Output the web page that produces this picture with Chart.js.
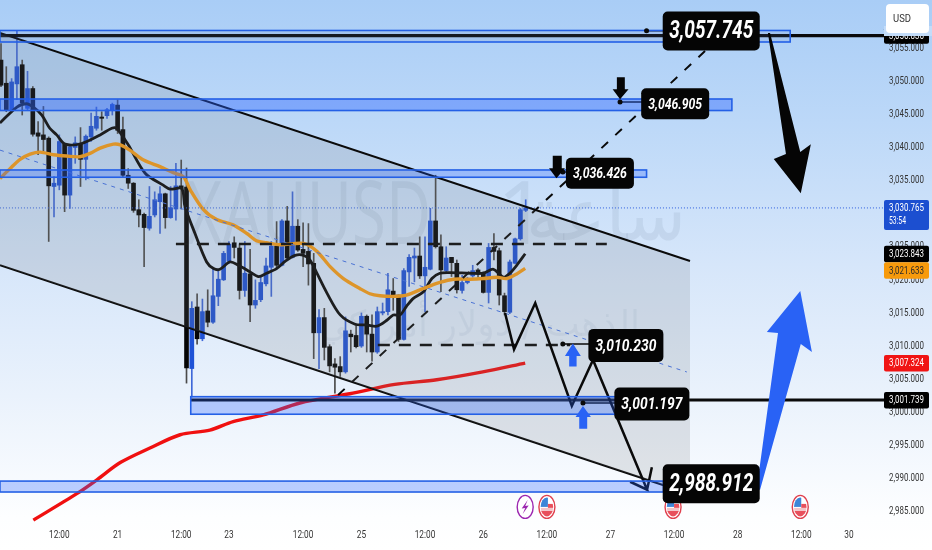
<!DOCTYPE html>
<html>
<head>
<meta charset="utf-8">
<title>XAUUSD</title>
<script src="https://cdn.jsdelivr.net/npm/chart.js@4/dist/chart.umd.min.js"></script>
<style>
html, body { margin: 0; height: 100%; overflow: hidden; }
body { background: linear-gradient(180deg, #a9cdf6 0%, #bcd8f8 22%, #d6e6fa 48%, #eaf2fc 72%, #fdfeff 94%, #ffffff 100%); }
canvas { display: block; }
</style>
</head>
<body>
<canvas id="chart" width="932" height="550"></canvas>
<script>
// hourly candles, one entry per bar
const opens = [3053.1,3049.6,3045.6,3049.5,3052.4,3045.8,3048.8,3042.1,3041.8,3041.3,3034.0,3034.2,3040.4,3032.7,3039.9,3040.4,3038.1,3041.5,3042.8,3044.5,
  3044.7,3045.5,3046.3,3042.6,3035.7,3034.5,3030.5,3029.8,3027.7,3029.7,3031.7,3032.9,3029.3,3030.6,3034.1,3033.9,3006.5,3015.8,3011.0,3015.2,
  3013.5,3017.4,3019.9,3022.7,3025.5,3024.7,3018.3,3020.8,3016.1,3016.9,3019.3,3021.8,3025.0,3022.1,3028.8,3023.3,3028.0,3024.5,3024.2,3022.4,
  3011.9,3014.2,3009.8,3007.2,3006.8,3006.0,3011.7,3011.5,3009.9,3014.4,3011.7,3009.0,3014.9,3015.1,3018.2,3017.6,3010.9,3021.1,3023.2,3023.5,
  3020.5,3021.5,3028.8,3024.9,3021.3,3023.3,3022.4,3018.3,3019.5,3020.5,3021.4,3020.9,3018.0,3024.8,3024.3,3017.5,3015.0,3022.4,3026.1,3030.4];
const highs = [3055.6,3052.1,3050.3,3057.6,3053.1,3051.4,3049.1,3043.8,3046.1,3041.5,3035.5,3041.8,3040.5,3040.3,3041.5,3042.9,3041.8,3045.1,3046.0,3045.3,
  3045.8,3046.6,3047.1,3044.5,3036.7,3034.6,3032.0,3030.0,3034.0,3033.2,3034.0,3033.0,3034.0,3037.5,3038.0,3036.8,3016.6,3017.8,3017.0,3018.4,
  3021.5,3021.4,3024.2,3025.7,3026.4,3025.2,3025.7,3024.5,3019.9,3020.3,3023.2,3025.7,3028.7,3029.0,3031.0,3033.2,3029.0,3028.5,3028.4,3023.9,
  3015.4,3015.6,3010.1,3008.0,3008.3,3014.3,3012.3,3013.1,3014.9,3014.6,3014.6,3015.8,3016.4,3020.9,3020.1,3017.6,3021.6,3023.7,3024.7,3026.4,
  3026.4,3030.7,3035.7,3026.7,3024.9,3023.3,3022.9,3020.6,3020.3,3022.1,3021.6,3021.1,3025.4,3026.9,3024.7,3017.9,3022.9,3026.2,3030.7,3032.0];
const lows = [3049.1,3045.3,3045.3,3047.1,3044.8,3045.6,3041.6,3038.8,3039.3,3025.7,3029.4,3033.5,3030.2,3030.7,3037.5,3034.0,3035.0,3040.8,3042.5,3042.5,
  3044.3,3044.8,3042.0,3035.5,3033.7,3030.1,3027.9,3021.9,3027.4,3029.4,3026.9,3027.7,3029.2,3028.9,3030.6,3004.3,3002.2,3010.2,3010.7,3012.8,
  3013.3,3016.0,3019.8,3022.4,3023.2,3017.0,3017.4,3013.6,3015.6,3016.6,3019.0,3017.4,3021.6,3022.0,3022.9,3023.2,3024.2,3021.9,3019.1,3008.0,
  3006.5,3007.8,3006.0,3002.8,3005.3,3005.8,3009.0,3009.6,3009.7,3009.0,3007.6,3008.8,3014.6,3014.6,3015.3,3010.6,3010.8,3018.9,3019.6,3020.1,
  3015.1,3021.4,3024.7,3018.1,3021.1,3020.4,3017.9,3017.9,3019.3,3020.3,3020.3,3017.9,3016.4,3022.9,3016.1,3014.6,3014.8,3022.3,3025.9,3030.2];
const closes = [3049.3,3045.6,3049.8,3052.1,3046.6,3048.8,3041.9,3041.6,3041.1,3034.1,3034.5,3040.8,3032.7,3040.0,3040.6,3038.1,3041.6,3043.1,3044.6,3044.3,
  3045.6,3046.4,3042.5,3035.7,3034.5,3030.4,3029.7,3027.8,3029.5,3032.0,3032.9,3029.3,3030.8,3034.1,3033.7,3006.6,3015.6,3011.0,3015.1,3013.5,
  3017.5,3020.0,3023.9,3025.3,3024.8,3018.3,3020.9,3016.1,3016.8,3019.5,3022.0,3025.0,3022.1,3028.8,3023.2,3028.0,3024.4,3023.9,3022.3,3011.9,
  3014.2,3009.7,3006.9,3006.7,3006.0,3012.2,3011.3,3009.8,3014.4,3011.7,3009.0,3015.1,3015.1,3018.4,3017.5,3010.9,3021.3,3023.3,3023.5,3020.5,
  3021.8,3028.8,3024.9,3021.4,3023.2,3022.5,3018.4,3019.5,3020.0,3021.3,3020.8,3018.0,3024.8,3024.2,3017.6,3015.1,3022.6,3026.1,3030.5,3030.765];

const blackMaBars = [-0.2,3,4.8,6.1,7.7,9.2,10.5,12.1,15.2,18.7,20.9,21.8,24,27.2,30.6,31.9,34.1,34.7,36.6,38.8,40.1,41.3,43.2,44.8,47,48.6,50.1,52,53.6,55.5,57.1,58.3,59.6,61.5,64,66.8,69,70.9,72.8,74,75.3,76.5,77.8,79.7,81.3,82.8,84.7,88.5,91,92.9,94.8,96,97.3,98.9];
const blackMaValues = [3043.6,3046,3046.5,3046,3044.8,3042.8,3041.8,3040.4,3040.5,3041.8,3042.8,3042.8,3040.3,3036,3034.2,3033.6,3033.7,3031,3026.9,3022.6,3021.6,3021.5,3022.6,3022.1,3021.1,3020.4,3020.9,3021.6,3022.7,3023.6,3023.6,3022.9,3020.9,3017.9,3014.6,3013.2,3013.1,3012.9,3013.8,3014.6,3014.6,3015.9,3017.1,3018.1,3020.1,3020.9,3021,3020.9,3020.9,3021.5,3020.3,3020.9,3022.1,3023.843];
const orangeMaBars = [-0.2,1.7,3.6,5.5,7.4,9.9,12.4,14.9,16.8,18.7,21.2,22.5,24.3,26.9,30,32.5,34.4,35.7,38.2,40.7,43.8,46.4,48.2,50.1,52.7,57.1,59.6,62.1,64.6,67.7,69.6,71.5,74,76.5,79.7,82.8,85.4,88.5,91,93.5,95.4,97.3,98.9];
const orangeMaValues = [3035.2,3036.7,3038.1,3038.9,3039.2,3038.8,3038.6,3038.5,3039,3039.8,3040.4,3040.3,3039.5,3038,3037,3036.1,3035.5,3033.5,3030.5,3029,3028.2,3026.9,3025.8,3025.5,3025.2,3025.4,3024.2,3021.9,3020.1,3018.6,3017.8,3017.5,3017.4,3017.6,3018.6,3019.5,3020,3020,3020.1,3020.3,3020.1,3020.8,3021.633];
const redMaBars = [6.1,14.3,18.1,22.5,28.1,33.8,39.4,43.8,49.5,56.4,65.8,74.3,82.2,90.9,98.9];
const redMaValues = [2983.6,2987.6,2989.7,2992.3,2994.5,2996.5,2997.2,2998.5,2999.5,3001.3,3002.7,3004.1,3004.8,3006,3007.324];

// price projection drawn from the last bars
const pathBars = [95.1,96.8,100.8,107.7,111.7,121.9,118.7,121.9,122.8];
const pathPrices = [3014.9,3009.4,3016.4,3000.85,3007.8,2988.2,2989.4,2988.2,2991.6];

// drawn tools
const channelBars = [-0.2,130];
const channelUpper = [3057.19,3022.75];
const channelLower = [3022.1,2987.55];
const midlineBars = [-0.2,129.4];
const midlinePrices = [3039.5,3005.98];
const trendBars = [63.6,137];
const trendPrices = [3002.5,3057.6];
const upperDashBars = [33,114.3];
const upperDashPrice = 3025.3;
const lowerDashBars = [71.1,107.4];
const lowerDashPrice = 3010.06;
const lastPrice = 3030.765;
const topLevel = 3056.8;
const lowLevel = 3001.739;

const zoneFrom = [-0.2,-0.2,-0.2,35.8,-0.2];
const zoneTo = [148.9,137.9,121.8,122,125];
const zoneHigh = [3057.57,3047.22,3036.5,3002.25,2989.5];
const zoneLow = [3055.83,3045.48,3035.4,2999.6,2987.85];
const zoneFills = ['rgba(90,120,190,0.14)','rgba(41,98,255,0.4)','rgba(41,98,255,0.28)','rgba(41,98,255,0.3)','rgba(41,98,255,0.3)'];

const calloutTexts = ['3,057.745','3,046.905','3,036.426','3,010.230','3,001.197','2,988.912'];
const calloutBars = [134,127.2,113,117.9,122.8,134];
const calloutPrices = [3057.5,3046.5,3036,3010,3001.15,2989.1];
const anchorBars = [121.8,116.8,106,106,109.8];
const anchorPrices = [3057.54,3046.77,3036.2,3010.2,3001.3];

const bigDownBars = [144.7,145.1,150.8,152.8,150.9,145.8,148.1];
const bigDownPrices = [3057.19,3057.19,3039.2,3040.4,3033,3038.16,3038.9];
const bigUpBars = [142.6,146.6,144.5,150.8,153,150.9,143.2];
const bigUpPrices = [2988.46,3011.87,3012.02,3018.2,3009,3010.2,2988.16];
const smallDownABars = [116.2,117.7,117.7,118.4,116.8,115.4,116.2];
const smallDownAPrices = [3050.5,3050.5,3048.7,3048.7,3047.2,3048.7,3048.7];
const smallDownBBars = [104.1,105.8,105.8,106.4,104.8,103.4,104.1];
const smallDownBPrices = [3038.66,3038.66,3036.75,3036.75,3035.24,3036.75,3036.75];
const smallUpABars = [107.9,109.4,108.6,108.6,107.2,107.2,106.4];
const smallUpAPrices = [3010.3,3008.4,3008.4,3006.8,3006.8,3008.4,3008.4];
const smallUpBBars = [109.8,111.3,110.6,110.6,109.1,109.1,108.4];
const smallUpBPrices = [3000.85,2999.2,2999.2,2997.4,2997.4,2999.2,2999.2];

const eventBars = [98.9,103,126.8,150.8];
const eventKinds = ['bolt','flag','flag','flag'];
const eventPrice = 2985.6;

// axes
const timeTickBars = [11,22,34,43,57,68,80,91,103,115,127,139,151,160];
const timeTickLabels = ['12:00','21','12:00','23','12:00','25','12:00','26','12:00','27','12:00','28','12:00','30'];
const priceTicks = [3055,3050,3045,3040,3035,3030,3025,3020,3015,3010,3005,3000,2995,2990,2985];

const tagTexts = ['3,056.836','3,030.765','3,023.843','3,021.633','3,007.324','3,001.739'];
const tagPrices = [3056.836,3030.765,3023.843,3021.633,3007.324,3001.739];
const tagFills = ['#000000','#1c4fd0','#000000','#f79a0c','#f01414','#000000'];
const tagInks = ['#ffffff','#ffffff','#ffffff','#2a2a2a','#ffffff','#ffffff'];

const BLUE = '#1f52d6';
const FONT = '"Roboto", sans-serif';

function points(bars, values) {
    return bars.map((b, i) => ({ x: b, y: values[i] }));
}

function lineSet(data, color, width, dash, order, extra) {
    return Object.assign({
        type: 'line', data: data, borderColor: color, borderWidth: width, borderDash: dash || [],
        pointRadius: 0, order: order, fill: false, borderCapStyle: 'butt'
    }, extra || {});
}

const upBar = i => closes[i] >= opens[i];

const datasets = [
    lineSet(points(channelBars, channelUpper), '#0a0a0a', 2, [], 2, { fill: '+1', backgroundColor: 'rgba(115,122,130,0.18)' }),
    lineSet(points(channelBars, channelLower), '#0a0a0a', 2, [], 2),
    lineSet(points(midlineBars, midlinePrices), '#3f6fe6', 1, [4, 5], 2),
    lineSet(points(trendBars, trendPrices), '#0a0a0a', 2, [9, 10], 2),
    lineSet(points(upperDashBars, [upperDashPrice, upperDashPrice]), '#0a0a0a', 2.5, [12, 9], 2),
    lineSet(points(lowerDashBars, [lowerDashPrice, lowerDashPrice]), '#0a0a0a', 2.5, [12, 9], 2),
    lineSet(points([-0.2, 166.6], [lastPrice, lastPrice]), '#2f5fe0', 1, [1, 2], 2),
    lineSet(points([-0.2, 166.6], [topLevel, topLevel]), '#0a0a0a', 3.2, [], 2),
    lineSet(points([35.8, 166.6], [lowLevel, lowLevel]), '#0a0a0a', 3, [], 2),
    lineSet(points(pathBars, pathPrices), '#0a0a0a', 2.5, [], 1),
    lineSet(points(redMaBars, redMaValues), '#f01010', 3.4, [], 3, { tension: 0.3 }),
    lineSet(points(orangeMaBars, orangeMaValues), '#f59c18', 3.4, [], 3, { tension: 0.3 }),
    lineSet(points(blackMaBars, blackMaValues), '#0a0a0a', 2.8, [], 3, { tension: 0.3 }),
    {
        type: 'bar', order: 5, barThickness: 4, grouped: false,
        data: opens.map((o, i) => ({ x: i, y: [o, closes[i]] })),
        backgroundColor: opens.map((o, i) => upBar(i) ? BLUE : '#050505')
    },
    {
        type: 'bar', order: 6, barThickness: 1, grouped: false,
        data: lows.map((l, i) => ({ x: i, y: [l, highs[i]] })),
        backgroundColor: opens.map((o, i) => upBar(i) ? '#3f68d8' : '#4a4a4a')
    }
];

function polygon(chart, bars, prices, color) {
    const ctx = chart.ctx, sx = chart.scales.x, sy = chart.scales.y;
    ctx.beginPath();
    bars.forEach((b, i) => {
        const px = sx.getPixelForValue(b), py = sy.getPixelForValue(prices[i]);
        i ? ctx.lineTo(px, py) : ctx.moveTo(px, py);
    });
    ctx.closePath();
    ctx.fillStyle = color;
    ctx.fill();
}

function drawEvent(ctx, kind, x, y) {
    ctx.save();
    ctx.beginPath();
    ctx.ellipse(x, y, 8, 11.5, 0, 0, Math.PI * 2);
    ctx.fillStyle = '#ffffff';
    ctx.fill();
    ctx.lineWidth = 1.4;
    ctx.strokeStyle = kind === 'bolt' ? '#9c27b0' : '#e0404e';
    ctx.stroke();
    if (kind === 'bolt') {
        ctx.fillStyle = '#9c27b0';
        ctx.beginPath();
        ctx.moveTo(x + 2.5, y - 7);
        ctx.lineTo(x - 3.5, y + 1.5);
        ctx.lineTo(x, y + 1);
        ctx.lineTo(x - 2.5, y + 7);
        ctx.lineTo(x + 3.5, y - 1.5);
        ctx.lineTo(x, y - 1);
        ctx.closePath();
        ctx.fill();
    } else {
        ctx.beginPath();
        ctx.ellipse(x, y, 6.3, 9.5, 0, 0, Math.PI * 2);
        ctx.clip();
        ctx.fillStyle = '#3d86d8';
        ctx.fillRect(x - 7, y - 10, 8, 10);
        ctx.fillStyle = '#e8505c';
        ctx.fillRect(x + 1, y - 3, 6, 4);
        ctx.fillRect(x - 7, y + 4, 14, 6);
        ctx.fillStyle = '#f3c4c8';
        ctx.fillRect(x - 7, y + 1, 14, 3);
    }
    ctx.restore();
}

// narrow axis text, real labels come from the scales' own ticks
function drawAxisLabels(chart) {
    const ctx = chart.ctx, sx = chart.scales.x, sy = chart.scales.y;
    ctx.save();
    ctx.fillStyle = '#333333';
    ctx.font = '11.5px ' + FONT;
    ctx.textBaseline = 'middle';
    ctx.textAlign = 'left';
    sy.ticks.forEach(t => {
        ctx.fillText(t.label, 889, sy.getPixelForValue(t.value) + 0.5, 35);
    });
    ctx.textAlign = 'center';
    sx.ticks.forEach(t => {
        ctx.fillText(t.label, sx.getPixelForValue(t.value), 535, ctx.measureText(t.label).width * 0.72);
    });
    ctx.restore();
}

const overlay = {
    id: 'overlay',
    beforeDatasetsDraw(chart) {
        const ctx = chart.ctx;
        // symbol watermark
        ctx.save();
        ctx.fillStyle = 'rgba(80,100,130,0.1)';
        ctx.textBaseline = 'alphabetic';
        ctx.font = '88px "Noto Sans", sans-serif';
        ctx.fillText('XAUUSD', 186, 244, 245);
        ctx.fillText('1', 497, 244);
        ctx.font = '74px "DejaVu Sans", sans-serif';
        ctx.textAlign = 'right';
        ctx.fillText('ساعة', 686, 240, 160);
        ctx.fillStyle = 'rgba(80,100,130,0.08)';
        ctx.font = '36px "DejaVu Sans", sans-serif';
        ctx.fillText('الذهب / دولار أمريكي', 640, 336, 345);
        ctx.restore();
    },
    afterDatasetsDraw(chart) {
        const ctx = chart.ctx, sx = chart.scales.x, sy = chart.scales.y;
        ctx.save();
        // anchor stubs
        ctx.strokeStyle = '#0a0a0a';
        ctx.lineWidth = 1.5;
        anchorBars.forEach((b, i) => {
            ctx.beginPath();
            ctx.moveTo(sx.getPixelForValue(b), sy.getPixelForValue(anchorPrices[i]));
            ctx.lineTo(sx.getPixelForValue(calloutBars[i]), sy.getPixelForValue(anchorPrices[i]));
            ctx.stroke();
        });
        // supply and demand zones
        zoneFrom.forEach((from, i) => {
            const x1 = sx.getPixelForValue(from), x2 = sx.getPixelForValue(zoneTo[i]);
            const y1 = sy.getPixelForValue(zoneHigh[i]), y2 = sy.getPixelForValue(zoneLow[i]);
            ctx.fillStyle = zoneFills[i];
            ctx.fillRect(x1, y1, x2 - x1, y2 - y1);
            ctx.strokeStyle = '#2460e6';
            ctx.lineWidth = 1.6;
            ctx.strokeRect(x1, y1, x2 - x1, y2 - y1);
        });
        anchorBars.forEach((b, i) => {
            ctx.beginPath();
            ctx.arc(sx.getPixelForValue(b), sy.getPixelForValue(anchorPrices[i]), 2.5, 0, Math.PI * 2);
            ctx.fillStyle = '#0a0a0a';
            ctx.fill();
        });
        polygon(chart, bigDownBars, bigDownPrices, '#050505');
        polygon(chart, bigUpBars, bigUpPrices, '#2962f5');
        polygon(chart, smallDownABars, smallDownAPrices, '#050505');
        polygon(chart, smallDownBBars, smallDownBPrices, '#050505');
        polygon(chart, smallUpABars, smallUpAPrices, '#2962f5');
        polygon(chart, smallUpBBars, smallUpBPrices, '#2962f5');
        eventBars.forEach((b, i) => drawEvent(ctx, eventKinds[i], sx.getPixelForValue(b), sy.getPixelForValue(eventPrice)));
        // price callouts, big ones at both ends of the list
        calloutTexts.forEach((t, i) => {
            const big = i === 0 || i === 5;
            const mid = i === 3 || i === 4;
            const w = big ? 97 : mid ? 75 : 68, h = big ? 39 : mid ? 33 : 31;
            const x = sx.getPixelForValue(calloutBars[i]), y = sy.getPixelForValue(calloutPrices[i]);
            ctx.beginPath();
            ctx.roundRect(x - w / 2, y - h / 2, w, h, 5);
            ctx.fillStyle = '#050505';
            ctx.fill();
            ctx.fillStyle = '#ffffff';
            ctx.textAlign = 'center';
            ctx.textBaseline = 'middle';
            ctx.font = (big ? 'bold italic 26px ' : mid ? 'bold italic 17px ' : 'bold italic 15px ') + FONT;
            ctx.fillText(t, x, y + 1, big ? 84 : mid ? 61 : 54);
        });
        ctx.restore();
    },
    afterDraw(chart) {
        const ctx = chart.ctx, sy = chart.scales.y;
        drawAxisLabels(chart);
        ctx.save();
        let prevBottom = 0;
        tagTexts.forEach((t, i) => {
            const isLast = tagPrices[i] === lastPrice;
            let y = sy.getPixelForValue(tagPrices[i]);
            if (y - 8 < prevBottom) y = prevBottom + 8;
            ctx.beginPath();
            ctx.roundRect(884, y - 8, 45, isLast ? 30 : 16.5, 2);
            ctx.fillStyle = tagFills[i];
            ctx.fill();
            ctx.fillStyle = tagInks[i];
            ctx.font = '11.5px ' + FONT;
            ctx.textAlign = 'left';
            ctx.textBaseline = 'middle';
            ctx.fillText(t, 889, y + 0.5, 35);
            if (isLast) ctx.fillText('53:54', 889, y + 13.5, 17);
            prevBottom = y + (isLast ? 22 : 8.5);
        });
        // the currency button hides the top of the level tag
        ctx.fillStyle = '#c3dcf9';
        ctx.fillRect(884, 26, 48, 10);
        ctx.beginPath();
        ctx.roundRect(886, 4, 43, 29, 4);
        ctx.fillStyle = '#ffffff';
        ctx.fill();
        ctx.fillStyle = '#333333';
        ctx.font = '11.5px ' + FONT;
        ctx.fillText('USD', 893, 19, 18);
        ctx.restore();
    }
};

new Chart(document.getElementById('chart'), {
    type: 'bar',
    data: { datasets: datasets },
    plugins: [overlay],
    options: {
        responsive: false,
        animation: false,
        devicePixelRatio: 1,
        events: [],
        layout: { padding: 0 },
        plugins: { legend: { display: false }, tooltip: { enabled: false }, title: { display: false } },
        scales: {
            x: {
                type: 'linear',
                offset: false,
                min: -0.19,
                max: 166.6,
                grid: { display: false },
                border: { display: false },
                afterBuildTicks(scale) { scale.ticks = timeTickBars.map(v => ({ value: v })); },
                afterFit(scale) { scale.height = 28; scale.paddingLeft = 0; scale.paddingRight = 0; },
                ticks: {
                    display: false,
                    callback(value) { return timeTickLabels[timeTickBars.indexOf(value)]; }
                }
            },
            y: {
                position: 'right',
                min: 2983.32,
                max: 3062.175,
                grid: { display: false, drawTicks: false },
                border: { display: false },
                afterBuildTicks(scale) { scale.ticks = priceTicks.map(v => ({ value: v })); },
                afterFit(scale) { scale.width = 48; scale.paddingTop = 0; scale.paddingBottom = 0; },
                ticks: {
                    display: false,
                    callback(value) { return value.toLocaleString('en-US', { minimumFractionDigits: 3 }); }
                }
            }
        }
    }
});
</script>
</body>
</html>
